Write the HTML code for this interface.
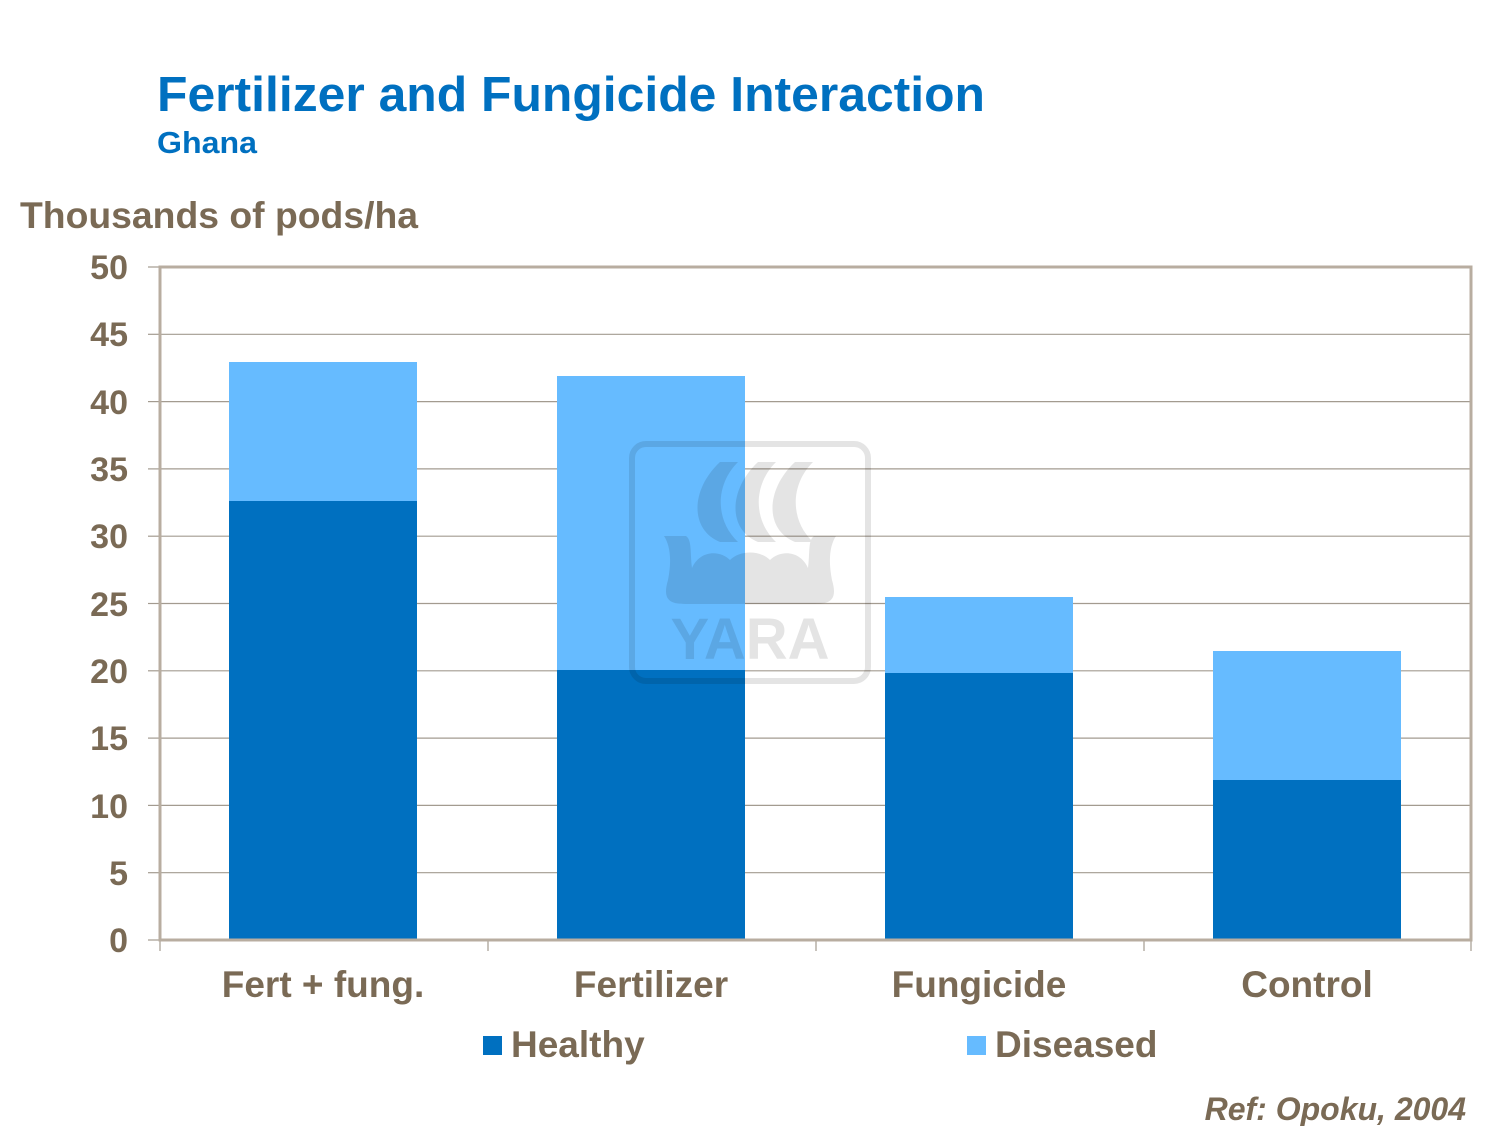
<!DOCTYPE html>
<html><head><meta charset="utf-8"><style>
html,body{margin:0;padding:0;background:#fff;}
svg{display:block;}
text{font-family:"Liberation Sans",Arial,sans-serif;font-weight:bold;}
</style></head><body>
<svg width="1500" height="1126" viewBox="0 0 1500 1126" xmlns="http://www.w3.org/2000/svg">
<rect width="1500" height="1126" fill="#fff"/>
<text x="157" y="111" font-size="49" fill="#0070c0" textLength="828" lengthAdjust="spacingAndGlyphs">Fertilizer and Fungicide Interaction</text>
<text x="157" y="153" font-size="31" fill="#0070c0" textLength="100" lengthAdjust="spacingAndGlyphs">Ghana</text>
<text x="20" y="228" font-size="37" fill="#7a6a55" textLength="398" lengthAdjust="spacingAndGlyphs">Thousands of pods/ha</text>
<g stroke="#a39b90" stroke-width="1.2">
<line x1="160" y1="872.7" x2="1471" y2="872.7"/>
<line x1="160" y1="805.4" x2="1471" y2="805.4"/>
<line x1="160" y1="738.1" x2="1471" y2="738.1"/>
<line x1="160" y1="670.8" x2="1471" y2="670.8"/>
<line x1="160" y1="603.5" x2="1471" y2="603.5"/>
<line x1="160" y1="536.2" x2="1471" y2="536.2"/>
<line x1="160" y1="468.9" x2="1471" y2="468.9"/>
<line x1="160" y1="401.6" x2="1471" y2="401.6"/>
<line x1="160" y1="334.3" x2="1471" y2="334.3"/>
</g>
<g stroke="#a39b90" stroke-width="1.2">
<line x1="148" y1="940" x2="160" y2="940"/><line x1="148" y1="872.7" x2="160" y2="872.7"/>
<line x1="148" y1="805.4" x2="160" y2="805.4"/><line x1="148" y1="738.1" x2="160" y2="738.1"/>
<line x1="148" y1="670.8" x2="160" y2="670.8"/><line x1="148" y1="603.5" x2="160" y2="603.5"/>
<line x1="148" y1="536.2" x2="160" y2="536.2"/><line x1="148" y1="468.9" x2="160" y2="468.9"/>
<line x1="148" y1="401.6" x2="160" y2="401.6"/><line x1="148" y1="334.3" x2="160" y2="334.3"/>
<line x1="148" y1="267" x2="160" y2="267"/>
<line x1="160" y1="940" x2="160" y2="951"/><line x1="488" y1="940" x2="488" y2="951"/>
<line x1="816" y1="940" x2="816" y2="951"/><line x1="1144" y1="940" x2="1144" y2="951"/>
<line x1="1471" y1="940" x2="1471" y2="951"/>
</g>
<rect x="229" y="362" width="188" height="139" fill="#66bbff"/>
<rect x="229" y="501" width="188" height="439" fill="#0070c0"/>
<rect x="557" y="376" width="188" height="294" fill="#66bbff"/>
<rect x="557" y="670" width="188" height="270" fill="#0070c0"/>
<rect x="885" y="597" width="188" height="76" fill="#66bbff"/>
<rect x="885" y="673" width="188" height="267" fill="#0070c0"/>
<rect x="1213" y="651" width="188" height="129" fill="#66bbff"/>
<rect x="1213" y="780" width="188" height="160" fill="#0070c0"/>
<rect x="160" y="267" width="1311" height="673" fill="none" stroke="#b8ada0" stroke-width="3"/>
<g opacity="0.1" fill="#000">
<rect x="632" y="444" width="236" height="237" rx="14" fill="none" stroke="#000" stroke-width="6"/>
<path d="M720 462 C690 490 690 530 720 542 L738 542 C715 520 715 485 738 462 Z"/>
<path d="M758 462 C728 490 728 530 758 542 L776 542 C753 520 753 485 776 462 Z"/>
<path d="M795 462 C765 490 765 530 795 542 L813 542 C790 520 790 485 813 462 Z"/>
<path d="M664 536 L686 536 C692 540 690 552 692 568 C700 550 720 550 730 560 C740 550 760 550 770 560 C780 550 800 550 808 568 C810 552 808 540 814 536 L836 536 C830 545 828 560 832 580 C838 600 830 604 815 604 L685 604 C670 604 662 600 668 580 C672 560 670 545 664 536 Z"/>
<text x="750" y="659" font-size="58" text-anchor="middle">YARA</text>
</g>
<g font-size="34" fill="#7a6a55" text-anchor="end">
<text x="128" y="952">0</text><text x="128" y="885">5</text><text x="128" y="818">10</text>
<text x="128" y="750">15</text><text x="128" y="683">20</text><text x="128" y="616">25</text>
<text x="128" y="548">30</text><text x="128" y="481">35</text><text x="128" y="414">40</text>
<text x="128" y="346">45</text><text x="128" y="279">50</text>
</g>
<g font-size="37" fill="#7a6a55" text-anchor="middle">
<text x="323" y="997">Fert + fung.</text>
<text x="651" y="997">Fertilizer</text>
<text x="979" y="997">Fungicide</text>
<text x="1307" y="997">Control</text>
</g>
<rect x="483" y="1036" width="19" height="19" fill="#0070c0"/>
<text x="511" y="1057" font-size="37" fill="#7a6a55">Healthy</text>
<rect x="967" y="1036" width="19" height="19" fill="#66bbff"/>
<text x="995" y="1057" font-size="37" fill="#7a6a55">Diseased</text>
<text x="1466" y="1120" font-size="32" font-style="italic" fill="#7a6a55" text-anchor="end">Ref: Opoku, 2004</text>
</svg>
</body></html>
